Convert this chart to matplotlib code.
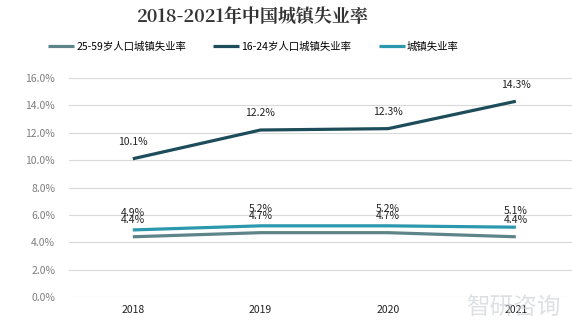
import matplotlib
matplotlib.use("Agg")
import matplotlib.pyplot as plt
from matplotlib.ticker import FuncFormatter

plt.rcParams["font.family"] = ["Noto Sans CJK SC", "DejaVu Sans"]

years = ["2018", "2019", "2020", "2021"]
rate_25_59 = [4.4, 4.7, 4.7, 4.4]
rate_16_24 = [10.1, 12.2, 12.3, 14.3]
rate_urban = [4.9, 5.2, 5.2, 5.1]

series = [
    ("25-59岁人口城镇失业率", rate_25_59, "#5d8589"),
    ("16-24岁人口城镇失业率", rate_16_24, "#1d4d5a"),
    ("城镇失业率", rate_urban, "#2b98ad"),
]

fig = plt.figure(figsize=(5.72, 3.23), dpi=100)
ax = fig.add_axes([0.1206, 0.0805, 0.8794, 0.678])

x = list(range(len(years)))
for name, vals, color in series:
    ax.plot(x, vals, color=color, lw=2.3, label=name, solid_capstyle="butt")
    for xi, v in zip(x, vals):
        ax.annotate(f"{v:.1f}%", (xi, v), xytext=(0, 12), textcoords="offset points",
                    ha="center", va="center", fontsize=7.5, color="#222222")

ax.set_xlim(-0.5, 3.44)
ax.set_ylim(0, 16)
ax.set_yticks([0, 2, 4, 6, 8, 10, 12, 14, 16])
ax.yaxis.set_major_formatter(FuncFormatter(lambda v, _: f"{v:.1f}%"))
ax.set_xticks(x)
ax.set_xticklabels(years)
ax.grid(axis="y", color="#d9d9d9", lw=0.8)
ax.set_axisbelow(True)
for s in ax.spines.values():
    s.set_visible(False)
ax.tick_params(axis="both", length=0, labelsize=7.5)
ax.tick_params(axis="y", colors="#7f7f7f", pad=10)
ax.tick_params(axis="x", colors="#222222", pad=6)

fig.text(0.442, 0.945, "2018-2021年中国城镇失业率", ha="center", va="center",
         fontsize=13, fontweight="bold", color="#333333",
         family=["Noto Serif CJK SC", "Noto Sans CJK SC", "DejaVu Sans"])

fig.legend(loc="center", bbox_to_anchor=(0.443, 0.855), ncol=3, frameon=False,
           fontsize=7.5, handlelength=2.5, columnspacing=2.6, handletextpad=0.2)

fig.text(0.98, 0.045, "智研咨询", ha="right", va="center", fontsize=17,
         color="#c8cdd2", alpha=0.6, zorder=0)

fig.savefig("out.png", dpi=100)
